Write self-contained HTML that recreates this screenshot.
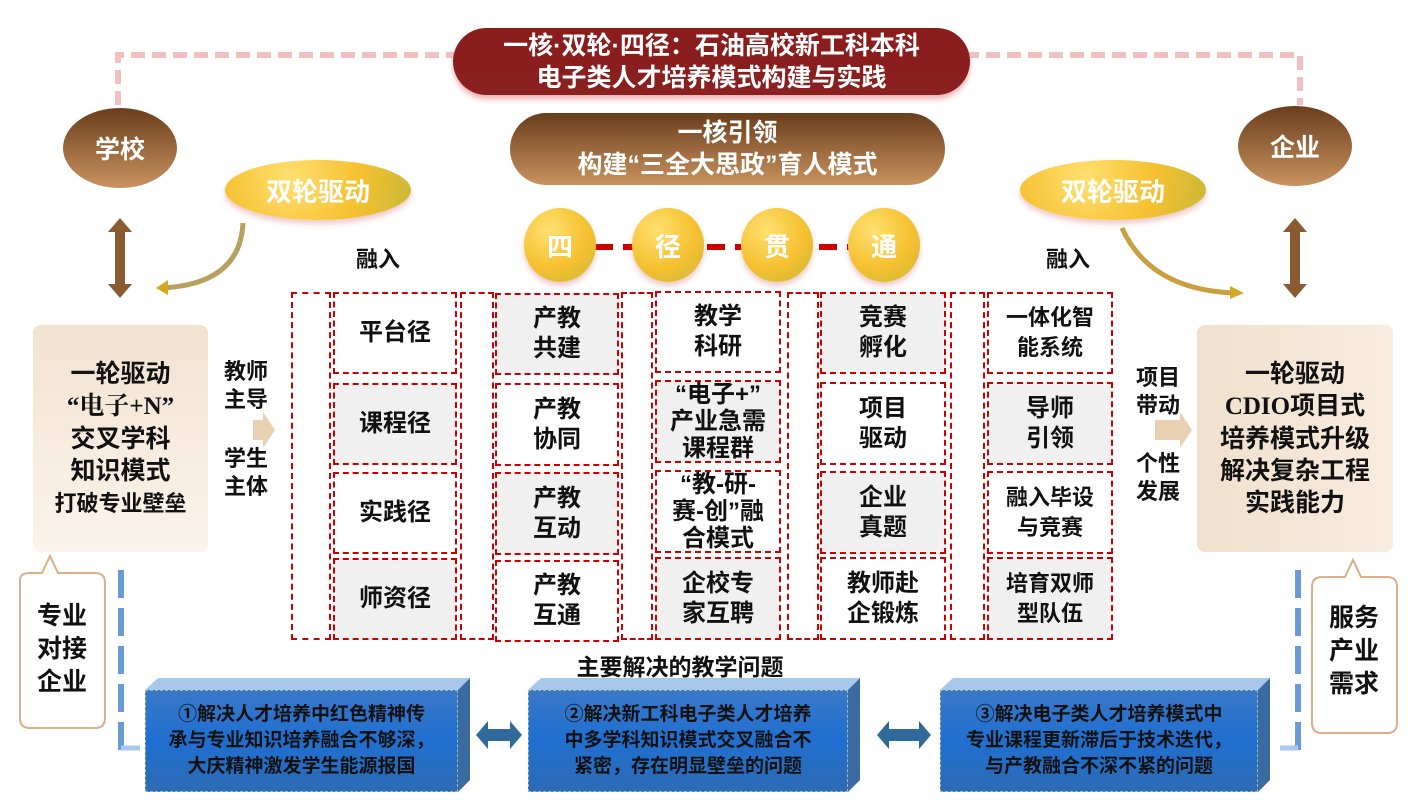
<!DOCTYPE html><html><head><meta charset="utf-8"><style>
body{margin:0;width:1414px;height:800px;background:#fff;position:relative;overflow:hidden;font-family:"Liberation Sans","Noto Sans CJK SC",sans-serif;font-weight:bold;}
.a{position:absolute;box-sizing:border-box;display:flex;align-items:center;justify-content:center;text-align:center;}
.c{border:2px dashed #c00;font-size:24px;line-height:30px;color:#111;}
.g{background:#f0f0f0;}
.n{border:2px dashed #c00;}
.gold{border-radius:50%;background:radial-gradient(circle at 35% 30%,#ffe070,#f5c030 55%,#c8b838);color:#fff;font-size:26px;box-shadow:0 4px 6px rgba(200,80,80,.3);}
.br{background:linear-gradient(#6a3d1c,#c9935f);color:#fff;}
.blue{background:linear-gradient(#3a78c8,#1f6fd0 50%,#2d6bb5);color:#111;font-size:19px;line-height:26px;border:1px dashed #9bb;}
.t{font-size:22px;color:#111;}
</style></head><body>
<svg class="a" style="left:0;top:0" width="1414" height="800">
<path d="M118 105 V55 H460 M965 55 H1300 V105" fill="none" stroke="#f2c0c0" stroke-width="6" stroke-dasharray="14 7"/>
<line x1="121" y1="570" x2="121" y2="750" stroke="#6a9ad8" stroke-width="6" stroke-dasharray="28 10"/>
<line x1="121" y1="748" x2="140" y2="748" stroke="#a8c8f0" stroke-width="5"/>
<line x1="1298" y1="570" x2="1298" y2="750" stroke="#6a9ad8" stroke-width="6" stroke-dasharray="28 10"/>
<line x1="1280" y1="748" x2="1298" y2="748" stroke="#a8c8f0" stroke-width="5"/>
<line x1="595" y1="247" x2="860" y2="247" stroke="#c00" stroke-width="6" stroke-dasharray="18 10"/>
<path d="M120 218 l-12 14 h7 v52 h-7 l12 14 l12-14 h-7 v-52 h7z" fill="#8a5a30"/>
<path d="M1295 218 l-12 14 h7 v52 h-7 l12 14 l12-14 h-7 v-52 h7z" fill="#8a5a30"/>
<path d="M243 223 Q240 285 160 288" fill="none" stroke="#b8a060" stroke-width="5"/><path d="M168 280 l-12 8 l12 7z" fill="#d4a820"/>
<path d="M1122 228 Q1150 290 1235 293" fill="none" stroke="#c8a040" stroke-width="5"/><path d="M1230 286 l14 7 l-14 6z" fill="#d4a820"/>
<path d="M253 420 h10 v-8 l12 18 l-12 18 v-8 h-10z" fill="#e8d0b0"/>
<path d="M1155 420 h25 v-8 l12 18 l-12 18 v-8 h-25z" fill="#e8d0b0"/>
<path d="M476 735 l12-14 v8 h22 v-8 l12 14 l-12 14 v-8 h-22 v8z" fill="#2f6a9a"/>
<path d="M877 735 l12-14 v8 h30 v-8 l12 14 l-12 14 v-8 h-30 v8z" fill="#2f6a9a"/>
<path d="M20 580 Q20 573 30 573 H42 L50 556 L58 573 H95 Q105 573 105 583 V718 Q105 728 95 728 H30 Q20 728 20 718Z" fill="#fff" stroke="#d8b08a" stroke-width="2"/>
<path d="M1312 587 Q1312 577 1322 577 H1345 L1353 560 L1361 577 H1387 Q1397 577 1397 587 V723 Q1397 733 1387 733 H1322 Q1312 733 1312 723Z" fill="#fff" stroke="#d8b08a" stroke-width="2"/>
<path d="M145 690 L158 678 H470 L458 690Z" fill="#a8c8ea"/><path d="M458 690 L470 678 V780 L458 792Z" fill="#3a6aa0"/>
<path d="M528 690 L541 678 H860 L848 690Z" fill="#a8c8ea"/><path d="M848 690 L860 678 V780 L848 792Z" fill="#3a6aa0"/>
<path d="M940 690 L953 678 H1270 L1258 690Z" fill="#a8c8ea"/><path d="M1258 690 L1270 678 V780 L1258 792Z" fill="#3a6aa0"/>
</svg>
<div class="a" style="left:453px;top:28px;width:517px;height:67px;border-radius:34px;background:linear-gradient(#8a1c1c,#8a2020);color:#fff;font-size:25px;line-height:32px;box-shadow:0 4px 6px #f0b0b0"><div>一核·双轮·四径：石油高校新工科本科<br>电子类人才培养模式构建与实践</div></div>
<div class="a br" style="left:510px;top:113px;width:435px;height:72px;border-radius:36px;font-size:25px;line-height:32px"><div>一核引领<br>构建“三全大思政”育人模式</div></div>
<div class="a br" style="left:63px;top:108px;width:114px;height:80px;border-radius:50%;font-size:25px">学校</div>
<div class="a br" style="left:1238px;top:106px;width:114px;height:80px;border-radius:50%;font-size:25px">企业</div>
<div class="a gold" style="left:225px;top:160px;width:186px;height:60px">双轮驱动</div>
<div class="a gold" style="left:1020px;top:160px;width:186px;height:60px">双轮驱动</div>
<div class="a gold" style="left:524px;top:208px;width:72px;height:74px">四</div>
<div class="a gold" style="left:632px;top:208px;width:72px;height:74px">径</div>
<div class="a gold" style="left:741px;top:208px;width:72px;height:74px">贯</div>
<div class="a gold" style="left:848px;top:208px;width:72px;height:74px">通</div>
<div class="a t" style="left:350px;top:242px;width:56px">融入</div>
<div class="a t" style="left:1040px;top:242px;width:56px">融入</div>
<div class="a" style="left:33px;top:325px;width:175px;height:227px;background:linear-gradient(#f2e2d0,#fbf4ec);border-radius:8px;font-size:25px;line-height:32px;color:#111"><div>一轮驱动<br><span style="font-family:'Liberation Serif','Noto Serif CJK SC',serif">“电子+N”</span><br>交叉学科<br>知识模式<br><span style="font-size:22px">打破专业壁垒</span></div></div>
<div class="a" style="left:1197px;top:325px;width:196px;height:227px;background:linear-gradient(90deg,#f0e0cc,#f8ece0);border-radius:8px;font-size:25px;line-height:32px;color:#111"><div>一轮驱动<br><span style="font-family:'Liberation Serif','Noto Serif CJK SC',serif">CDIO</span>项目式<br>培养模式升级<br>解决复杂工程<br>实践能力</div></div>
<div class="a t" style="left:218px;top:358px;width:56px;line-height:28px"><div>教师<br>主导</div></div>
<div class="a t" style="left:218px;top:445px;width:56px;line-height:28px"><div>学生<br>主体</div></div>
<div class="a t" style="left:1130px;top:364px;width:56px;line-height:28px"><div>项目<br>带动</div></div>
<div class="a t" style="left:1130px;top:450px;width:56px;line-height:28px"><div>个性<br>发展</div></div>
<div class="a" style="left:22px;top:600px;width:80px;font-size:25px;line-height:33px;color:#111"><div>专业<br>对接<br>企业</div></div>
<div class="a" style="left:1314px;top:602px;width:80px;font-size:25px;line-height:33px;color:#111"><div>服务<br>产业<br>需求</div></div>
<div class="a n" style="left:291px;top:292px;width:40px;height:348px"></div>
<div class="a n" style="left:460px;top:292px;width:34px;height:348px"></div>
<div class="a n" style="left:621px;top:292px;width:32px;height:348px"></div>
<div class="a n" style="left:787px;top:292px;width:32px;height:348px"></div>
<div class="a n" style="left:950px;top:292px;width:35px;height:348px"></div>
<div class="a c" style="left:333px;top:292px;width:124px;height:82px">平台径</div>
<div class="a c g" style="left:333px;top:383px;width:124px;height:82px">课程径</div>
<div class="a c" style="left:333px;top:472px;width:124px;height:82px">实践径</div>
<div class="a c g" style="left:333px;top:558px;width:124px;height:82px">师资径</div>
<div class="a c g" style="left:495px;top:293px;width:124px;height:82px"><div>产教<br>共建</div></div>
<div class="a c" style="left:495px;top:383px;width:124px;height:83px"><div>产教<br>协同</div></div>
<div class="a c g" style="left:495px;top:472px;width:124px;height:83px"><div>产教<br>互动</div></div>
<div class="a c" style="left:495px;top:560px;width:124px;height:82px"><div>产教<br>互通</div></div>
<div class="a c" style="left:655px;top:291px;width:126px;height:82px"><div>教学<br>科研</div></div>
<div class="a c g" style="left:655px;top:380px;width:126px;height:83px;line-height:27px"><div>“电子+”<br>产业急需<br>课程群</div></div>
<div class="a c" style="left:655px;top:470px;width:126px;height:83px;line-height:27px"><div>“教-研-<br>赛-创”融<br>合模式</div></div>
<div class="a c g" style="left:655px;top:557px;width:126px;height:83px"><div>企校专<br>家互聘</div></div>
<div class="a c g" style="left:820px;top:292px;width:126px;height:82px"><div>竞赛<br>孵化</div></div>
<div class="a c" style="left:820px;top:382px;width:126px;height:83px"><div>项目<br>驱动</div></div>
<div class="a c g" style="left:820px;top:471px;width:126px;height:83px"><div>企业<br>真题</div></div>
<div class="a c" style="left:820px;top:557px;width:126px;height:83px"><div>教师赴<br>企锻炼</div></div>
<div class="a c" style="left:987px;top:292px;width:126px;height:82px;font-size:22px"><div>一体化智<br>能系统</div></div>
<div class="a c g" style="left:987px;top:382px;width:126px;height:83px"><div>导师<br>引领</div></div>
<div class="a c" style="left:987px;top:471px;width:126px;height:83px;font-size:22px"><div>融入毕设<br>与竞赛</div></div>
<div class="a c g" style="left:987px;top:557px;width:126px;height:83px;font-size:22px"><div>培育双师<br>型队伍</div></div>
<div class="a" style="left:500px;top:648px;width:360px;font-size:23px;color:#111">主要解决的教学问题</div>
<div class="a blue" style="left:145px;top:690px;width:313px;height:102px"><div>①解决人才培养中红色精神传<br>承与专业知识培养融合不够深，<br>大庆精神激发学生能源报国</div></div>
<div class="a blue" style="left:528px;top:690px;width:320px;height:102px"><div>②解决新工科电子类人才培养<br>中多学科知识模式交叉融合不<br>紧密，存在明显壁垒的问题</div></div>
<div class="a blue" style="left:940px;top:690px;width:318px;height:102px"><div>③解决电子类人才培养模式中<br>专业课程更新滞后于技术迭代，<br>与产教融合不深不紧的问题</div></div>
</body></html>
